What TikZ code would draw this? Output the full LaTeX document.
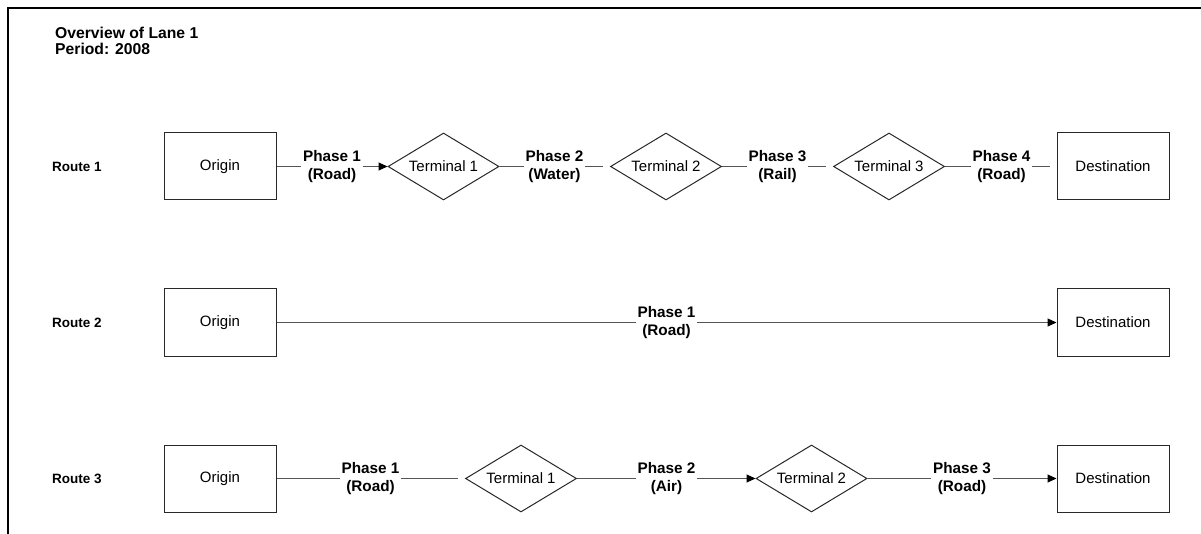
\documentclass[tikz,border=0pt]{standalone}
\usepackage{fontspec}
\setmainfont{Liberation Sans}
\usetikzlibrary{shapes.geometric,arrows.meta}
\definecolor{conn}{RGB}{85,85,85}
\definecolor{edge}{RGB}{40,40,40}
\tikzset{
  base/.style={font=\fontsize{15}{17.5}\selectfont},
  boxnode/.style={base,draw=edge,line width=1pt,minimum width=112pt,minimum height=67pt,inner sep=0pt},
  termnode/.style={base,draw=edge,line width=1pt,diamond,shape aspect=1.66,minimum width=111pt,minimum height=67pt,inner sep=0pt},
  phaselabel/.style={base,font=\fontsize{15.3}{17.8}\selectfont\bfseries,align=center,inner sep=1.5pt},
  routelabel/.style={base,font=\fontsize{13.5}{16}\selectfont\bfseries,anchor=west,inner sep=0pt},
  link/.style={draw=conn,line width=1pt},
  gaplink/.style={link,shorten >=7pt},
  arrowlink/.style={link,-{Triangle[length=9pt,width=8pt,color=black]}},
}
\begin{document}
\begin{tikzpicture}[x=1pt,y=-1pt]
\useasboundingbox (0,0) rectangle (1201,534);
\coordinate (bl) at (8,534);
\coordinate (tl) at (8,8);
\coordinate (tr) at (1201,8);
\draw[line width=1.3pt] (bl) -- (tl) -- (tr);

\node[base,font=\fontsize{15.7}{15.6}\selectfont\bfseries,align=left,anchor=north west,inner sep=0pt] (title) at (55,27) {Overview of Lane 1\\Period: 2008};

% Route 1
\node[routelabel] (r1) at (52,166.5) {Route 1};
\node[boxnode] (o1) at (220,166.5) {Origin};
\node[termnode] (t11) at (443.5,166.5) {Terminal 1};
\node[termnode] (t12) at (666,166.5) {Terminal 2};
\node[termnode] (t13) at (889,166.5) {Terminal 3};
\node[boxnode] (d1) at (1113,166.5) {Destination};
\node[phaselabel] (p11) at (332,166.5) {Phase 1\\(Road)};
\node[phaselabel] (p12) at (554.5,166.5) {Phase 2\\(Water)};
\node[phaselabel] (p13) at (777.5,166.5) {Phase 3\\(Rail)};
\node[phaselabel] (p14) at (1001.5,166.5) {Phase 4\\(Road)};
\draw[link] (o1) -- (p11);
\draw[arrowlink] (p11) -- (t11);
\draw[link] (t11) -- (p12);
\draw[gaplink] (p12) -- (t12);
\draw[link] (t12) -- (p13);
\draw[gaplink] (p13) -- (t13);
\draw[link] (t13) -- (p14);
\draw[gaplink] (p14) -- (d1);

% Route 2
\node[routelabel] (r2) at (52,322.5) {Route 2};
\node[boxnode] (o2) at (220,322.5) {Origin};
\node[boxnode] (d2) at (1113,322.5) {Destination};
\node[phaselabel] (p21) at (666.5,322.5) {Phase 1\\(Road)};
\draw[link] (o2) -- (p21);
\draw[arrowlink] (p21) -- (d2);

% Route 3
\node[routelabel] (r3) at (52,478.5) {Route 3};
\node[boxnode] (o3) at (220,478.5) {Origin};
\node[termnode] (t31) at (521,478.5) {Terminal 1};
\node[termnode] (t32) at (811.5,478.5) {Terminal 2};
\node[boxnode] (d3) at (1113,478.5) {Destination};
\node[phaselabel] (p31) at (370.5,478.5) {Phase 1\\(Road)};
\node[phaselabel] (p32) at (666.5,478.5) {Phase 2\\(Air)};
\node[phaselabel] (p33) at (962,478.5) {Phase 3\\(Road)};
\draw[link] (o3) -- (p31);
\draw[gaplink] (p31) -- (t31);
\draw[link] (t31) -- (p32);
\draw[arrowlink] (p32) -- (t32);
\draw[link] (t32) -- (p33);
\draw[arrowlink] (p33) -- (d3);
\end{tikzpicture}
\end{document}
